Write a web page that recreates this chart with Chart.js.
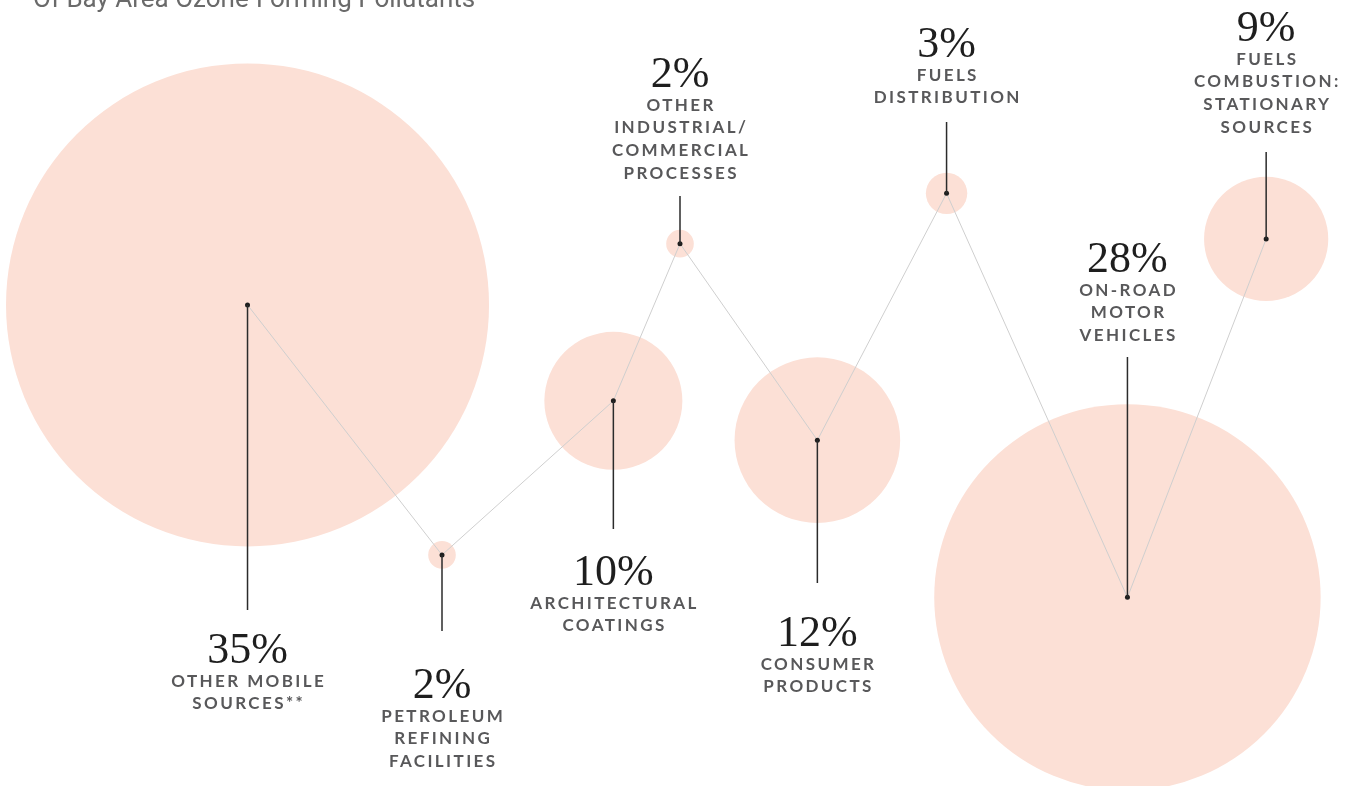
<!DOCTYPE html>
<html lang="en">
<head>
    <meta charset="UTF-8">
    <title>Bay Area Ozone-Forming Pollutants</title>
    <style>
        body { margin: 0; background: #fff; }
        .chart-container { position: relative; width: 1360px; height: 786px; }
    </style>
    <script src="https://cdn.jsdelivr.net/npm/chart.js"></script>
</head>
<body>
    <div class="chart-container">
        <canvas id="bubbleChart"></canvas>
    </div>

    <script>
        // data
        const categories = [
            ['OTHER MOBILE', 'SOURCES**'],
            ['PETROLEUM', 'REFINING', 'FACILITIES'],
            ['ARCHITECTURAL', 'COATINGS'],
            ['OTHER', 'INDUSTRIAL/', 'COMMERCIAL', 'PROCESSES'],
            ['CONSUMER', 'PRODUCTS'],
            ['FUELS', 'DISTRIBUTION'],
            ['ON-ROAD', 'MOTOR', 'VEHICLES'],
            ['FUELS', 'COMBUSTION:', 'STATIONARY', 'SOURCES']
        ];
        const shares = [35, 2, 10, 2, 12, 3, 28, 9];
        // position of each bubble on a 0-100 layout grid
        const xPos = [18.2, 32.5, 45.1, 50.0, 60.1, 69.6, 82.9, 93.1];
        const yPos = [61.2, 29.4, 49.0, 69.0, 44.0, 75.4, 24.0, 69.6];

        const titleText = 'Of Bay Area Ozone-Forming Pollutants';

        // label layout (pixels): where the leader stops and where the % baseline sits
        const leaderEnd = [610, 631, 529, 196, 583, 122, 357, 152];
        const pctBaseline = [663, 698, 585, 87, 646, 57, 272, 41];

        const RADIUS_PER_PCT = 6.9;

        const points = shares.map((s, i) => ({ x: xPos[i], y: yPos[i], r: s * RADIUS_PER_PCT }));

        const labelPlugin = {
            id: 'labels',
            afterDatasetsDraw(chart) {
                const ctx = chart.ctx;
                const xs = chart.scales.x, ys = chart.scales.y;
                ctx.save();

                // title, cut off at the top edge
                ctx.font = '26px Roboto';
                ctx.fillStyle = '#6a6a6a';
                ctx.textBaseline = 'alphabetic';
                ctx.textAlign = 'left';
                ctx.fillText(titleText, 33, 7);

                shares.forEach((s, i) => {
                    const px = xs.getPixelForValue(xPos[i]);
                    const py = ys.getPixelForValue(yPos[i]);

                    // leader line
                    ctx.strokeStyle = '#2b2b2b';
                    ctx.lineWidth = 1.5;
                    ctx.beginPath();
                    ctx.moveTo(px, py);
                    ctx.lineTo(px, leaderEnd[i]);
                    ctx.stroke();

                    // percentage
                    ctx.letterSpacing = '0px';
                    ctx.font = '44px "Liberation Serif"';
                    ctx.fillStyle = '#1e1e1e';
                    ctx.textAlign = 'center';
                    ctx.fillText(s + '%', px, pctBaseline[i]);

                    // category lines
                    ctx.font = 'bold 17px Lato';
                    ctx.fillStyle = '#58585a';
                    ctx.textAlign = 'left';
                    const sp = 2.4;
                    ctx.letterSpacing = sp + 'px';
                    categories[i].forEach((line, j) => {
                        const w = ctx.measureText(line).width - sp;
                        ctx.fillText(line, px - w / 2, pctBaseline[i] + 23.5 + j * 22.7);
                    });
                });
                ctx.restore();
            }
        };

        const ctx = document.getElementById('bubbleChart').getContext('2d');
        new Chart(ctx, {
            type: 'bubble',
            data: {
                datasets: [
                    {
                        type: 'line',
                        data: points.map(p => ({ x: p.x, y: p.y })),
                        borderColor: '#cfcfcf',
                        borderWidth: 1,
                        pointRadius: 2.5,
                        pointBackgroundColor: '#1e1e1e',
                        pointBorderWidth: 0,
                        tension: 0,
                        clip: false,
                        order: 1
                    },
                    {
                        type: 'bubble',
                        data: points,
                        backgroundColor: 'rgb(252, 224, 214)',
                        borderWidth: 0,
                        clip: false,
                        order: 2
                    }
                ]
            },
            options: {
                responsive: true,
                maintainAspectRatio: false,
                animation: false,
                events: [],
                layout: { padding: 0, autoPadding: false },
                plugins: {
                    legend: { display: false },
                    tooltip: { enabled: false }
                },
                scales: {
                    x: { type: 'linear', min: 0, max: 100, display: false },
                    y: { type: 'linear', min: 0, max: 100, display: false }
                }
            },
            plugins: [labelPlugin]
        });
    </script>
</body>
</html>
